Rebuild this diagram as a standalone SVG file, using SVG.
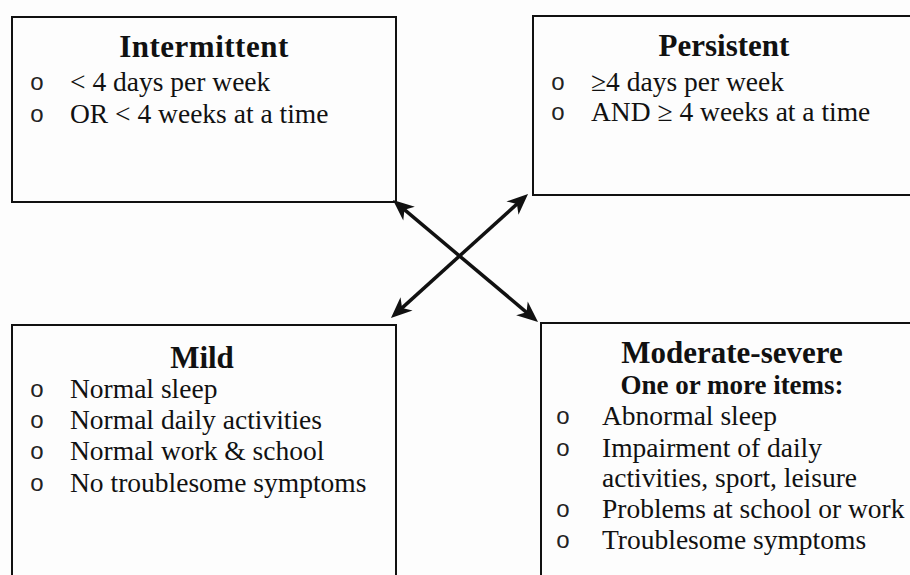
<svg xmlns="http://www.w3.org/2000/svg" width="910" height="575" viewBox="0 0 910 575">
<style>
.box{fill:none;stroke:#111;stroke-width:2}
.t{font-family:"Liberation Serif","Times New Roman",serif;font-weight:bold;font-size:31px;fill:#111;text-anchor:middle}
.s{font-family:"Liberation Serif","Times New Roman",serif;font-weight:bold;font-size:27px;fill:#111;text-anchor:middle}
.b{font-family:"Liberation Serif","Times New Roman",serif;font-size:27.5px;fill:#111}
.o{font-family:"Liberation Sans",Arial,sans-serif;font-size:24px;fill:#222;text-anchor:middle}
.arr{stroke:#111;stroke-width:3.5;fill:none;marker-start:url(#ah);marker-end:url(#ah)}
</style>
<defs>
<marker id="ah" markerUnits="userSpaceOnUse" viewBox="-14 -10 24 20" refX="0" refY="0" markerWidth="24" markerHeight="20" orient="auto-start-reverse">
<path d="M8,0 L-13,-9 L-7,0 L-13,9 Z" fill="#111"/>
</marker>
</defs>
<rect width="910" height="575" fill="#fdfdfd"/>
<g id="intermittent">
<rect class="box" x="12" y="17" width="384" height="185"/>
<text class="t" x="204" y="57" letter-spacing="0.5">Intermittent</text>
<text class="o" x="37" y="90">o</text>
<text class="b" x="70" y="91">&lt; 4 days per week</text>
<text class="o" x="37" y="122">o</text>
<text class="b" x="70" y="123">OR &lt; 4 weeks at a time</text>
</g>
<g id="persistent">
<rect class="box" x="533" y="16" width="390" height="179"/>
<text class="t" x="724" y="56">Persistent</text>
<text class="o" x="558" y="90">o</text>
<text class="b" x="591" y="91">≥4 days per week</text>
<text class="o" x="558" y="120">o</text>
<text class="b" x="591" y="121">AND ≥ 4 weeks at a time</text>
</g>
<g id="mild">
<rect class="box" x="12" y="325" width="384" height="270"/>
<text class="t" x="202" y="368" font-size="30">Mild</text>
<text class="o" x="37" y="397">o</text>
<text class="b" x="70" y="398">Normal sleep</text>
<text class="o" x="37" y="428">o</text>
<text class="b" x="70" y="429">Normal daily activities</text>
<text class="o" x="37" y="459">o</text>
<text class="b" x="70" y="460">Normal work &amp; school</text>
<text class="o" x="37" y="491">o</text>
<text class="b" x="70" y="492">No troublesome symptoms</text>
</g>
<g id="moderate-severe">
<rect class="box" x="541" y="323" width="390" height="270"/>
<text class="t" x="732" y="363">Moderate-severe</text>
<text class="s" x="732" y="394">One or more items:</text>
<text class="o" x="563" y="424">o</text>
<text class="b" x="602" y="425">Abnormal sleep</text>
<text class="o" x="563" y="456">o</text>
<text class="b" x="602" y="457">Impairment of daily</text>
<text class="b" x="602" y="487">activities, sport, leisure</text>
<text class="o" x="563" y="517">o</text>
<text class="b" x="602" y="518">Problems at school or work</text>
<text class="o" x="563" y="548">o</text>
<text class="b" x="602" y="549">Troublesome symptoms</text>
</g>
<g id="connectors">
<path class="arr" d="M399.1,205.2 L531.9,316.8"/>
<path class="arr" d="M522.1,199.4 L396.9,312.6"/>
</g>
</svg>
